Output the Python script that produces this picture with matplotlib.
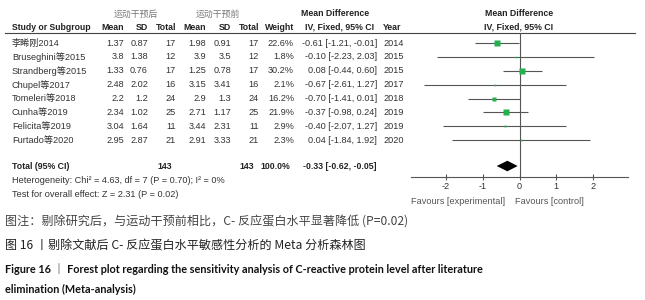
import numpy as np
import matplotlib
matplotlib.use('Agg')
import matplotlib.pyplot as plt

W, H, DPI = 645, 300, 100

# ---- data ----
studies = ['李晞刚2014', 'Bruseghini等2015', 'Strandberg等2015', 'Chupel等2017',
           'Tomeleri等2018', 'Cunha等2019', 'Felicita等2019', 'Furtado等2020']
mean_post = [1.37, 3.8, 1.33, 2.48, 2.2, 2.34, 3.04, 2.95]
sd_post = [0.87, 1.38, 0.76, 2.02, 1.2, 1.02, 1.64, 2.87]
n_post = [17, 12, 17, 16, 24, 25, 11, 21]
mean_pre = [1.98, 3.9, 1.25, 3.15, 2.9, 2.71, 3.44, 2.91]
sd_pre = [0.91, 3.5, 0.78, 3.41, 1.3, 1.17, 2.31, 3.33]
n_pre = [17, 12, 17, 16, 24, 25, 11, 21]
weight = [22.6, 1.8, 30.2, 2.1, 16.2, 21.9, 2.9, 2.3]
md = [-0.61, -0.10, 0.08, -0.67, -0.70, -0.37, -0.40, 0.04]
ci_lo = [-1.21, -2.23, -0.44, -2.61, -1.41, -0.98, -2.07, -1.84]
ci_hi = [-0.01, 2.03, 0.60, 1.27, 0.01, 0.24, 1.27, 1.92]
years = [2014, 2015, 2015, 2017, 2018, 2019, 2019, 2020]
total_md, total_lo, total_hi = -0.33, -0.62, -0.05
total_n = [143, 143]
xticks = [-2, -1, 0, 1, 2]

# ---- layout (pixels) ----
ROW0, ROWH = 43, 13.9
TOTAL_ROW = len(studies) + 0.85
HDR_LINE = 33
AX_L, AX_R, AX_B = 411, 628, 177

SANS = ['Liberation Sans', 'Noto Sans CJK SC']
CJK = ['Noto Sans CJK SC', 'DejaVu Sans']
FS = 6.6
TXT = '#333333'

def ry(i):
    return ROW0 + ROWH * i

fig = plt.figure(figsize=(W / DPI, H / DPI), dpi=DPI)
fig.patch.set_facecolor('white')
tx = fig.add_axes([0, 0, 1, 1])
tx.set_xlim(0, W)
tx.set_ylim(H, 0)
tx.axis('off')

def t(x, y, s, ha='left', bold=False, color=TXT, fs=FS, family=SANS):
    tx.text(x, y, s, ha=ha, va='center', fontsize=fs, color=color,
            fontweight='bold' if bold else 'normal', family=family)

# headers
t(136, 14, '运动干预后', ha='center', color='#777777', family=CJK, fs=6.4)
t(218, 14, '运动干预前', ha='center', color='#777777', family=CJK, fs=6.4)
t(335, 14, 'Mean Difference', ha='center', bold=True, color='#222222', fs=6.3)
t(519, 14, 'Mean Difference', ha='center', bold=True, color='#222222', fs=6.3)
hy = 27
t(12, hy, 'Study or Subgroup', bold=True, color='#222222', fs=6.2)
for x, s in [(124, 'Mean'), (148, 'SD'), (176, 'Total'), (206, 'Mean'),
             (231, 'SD'), (259, 'Total'), (294, 'Weight')]:
    t(x, hy, s, ha='right', bold=True, color='#222222', fs=6.3)
t(340, hy, 'IV, Fixed, 95% CI', ha='center', bold=True, color='#222222', fs=6.3)
t(383, hy, 'Year', bold=True, color='#222222', fs=6.3)
t(519, hy, 'IV, Fixed, 95% CI', ha='center', bold=True, color='#222222', fs=6.3)
tx.plot([5, 635], [HDR_LINE, HDR_LINE], color='#444444', lw=0.8)

# study rows
for i, name in enumerate(studies):
    y = ry(i)
    t(12, y, name)
    t(124, y, str(mean_post[i]), ha='right')
    t(148, y, str(sd_post[i]), ha='right')
    t(176, y, str(n_post[i]), ha='right')
    t(206, y, str(mean_pre[i]), ha='right')
    t(231, y, str(sd_pre[i]), ha='right')
    t(259, y, str(n_pre[i]), ha='right')
    t(294, y, '%.1f%%' % weight[i], ha='right')
    t(377, y, '%.2f [%.2f, %.2f]' % (md[i], ci_lo[i], ci_hi[i]), ha='right')
    t(383, y, str(years[i]))

# total rows
yt = ry(TOTAL_ROW)
t(12, yt, 'Total (95% CI)', bold=True, color='#222222', fs=6.3)
t(172, yt, str(total_n[0]), ha='right', bold=True, color='#222222', fs=6.3)
t(254, yt, str(total_n[1]), ha='right', bold=True, color='#222222', fs=6.3)
t(290, yt, '%.1f%%' % sum(weight), ha='right', bold=True, color='#222222', fs=6.3)
t(303, yt, '%.2f [%.2f, %.2f]' % (total_md, total_lo, total_hi), bold=True,
  color='#222222', fs=6.3)
t(12, yt + 14, 'Heterogeneity: Chi² = 4.63, df = 7 (P = 0.70); I² = 0%')
t(12, yt + 28, 'Test for overall effect: Z = 2.31 (P = 0.02)')

# forest panel
fx = fig.add_axes([AX_L / W, 1 - AX_B / H, (AX_R - AX_L) / W, (AX_B - HDR_LINE) / H])
fx.set_xlim(-2.95, 2.95)
fx.set_ylim((AX_B - ROW0) / ROWH, (HDR_LINE - ROW0) / ROWH)
fx.patch.set_alpha(0)
for s in ['top', 'left', 'right']:
    fx.spines[s].set_visible(False)
fx.spines['bottom'].set_color('#555555')
fx.spines['bottom'].set_linewidth(0.8)
fx.set_yticks([])
fx.set_xticks(xticks)
fx.set_xticklabels([str(v) for v in xticks], family=SANS, fontsize=FS, color=TXT)
fx.tick_params(axis='x', direction='inout', length=5, width=0.8, color='#555555', pad=1)
fx.axvline(0, color='#555555', lw=0.8)

rows = np.arange(len(studies))
fx.hlines(rows, ci_lo, ci_hi, color='#555555', lw=0.8)
for i in rows:
    fx.plot(md[i], i, 's', color='#22b14c', mec='none',
            markersize=0.82 * np.sqrt(weight[i]))
fx.fill([total_lo, total_md, total_hi, total_md],
        [TOTAL_ROW, TOTAL_ROW - 0.38, TOTAL_ROW, TOTAL_ROW + 0.38],
        color='black', lw=0)

t(505, 201, 'Favours [experimental]', ha='right', color='#555555')
t(515, 201, 'Favours [control]', color='#555555')

# captions
t(5, 222, '图注：剔除研究后，与运动干预前相比，C- 反应蛋白水平显著降低 (P=0.02)',
  family=CJK, fs=8.7, color='#444444')
t(5, 246, '图 16 丨剔除文献后 C- 反应蛋白水平敏感性分析的 Meta 分析森林图',
  family=CJK, fs=8.7, color='#222222')
t(5, 269, 'Figure 16 ｜ Forest plot regarding the sensitivity analysis of C-reactive protein level after literature',
  bold=True, family=['Lato', 'Noto Sans CJK SC'], fs=7.8, color='#111111')
t(5, 289, 'elimination (Meta-analysis)',
  bold=True, family=['Lato', 'Noto Sans CJK SC'], fs=7.8, color='#111111')

fig.savefig('out.png', dpi=DPI)
